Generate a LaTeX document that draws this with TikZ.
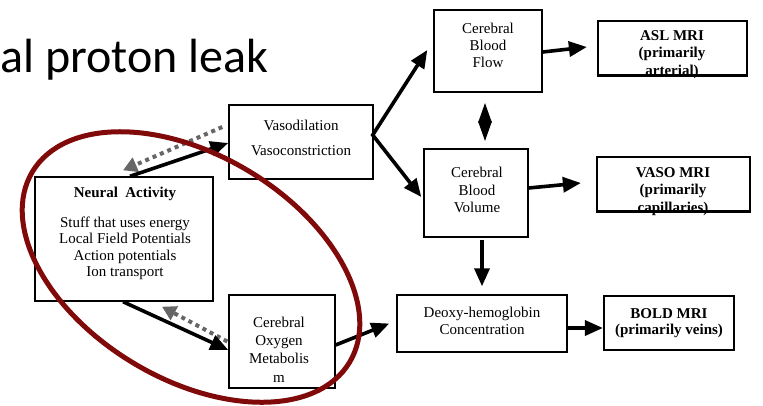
\documentclass[tikz,border=0pt]{standalone}
\usepackage{fontspec}
\setmainfont{Liberation Serif}
\newfontfamily\slidefont{Carlito}
\usetikzlibrary{arrows.meta}
\definecolor{ringred}{RGB}{128,10,10}

\begin{document}
\begin{tikzpicture}[x=1pt, y=-1pt, >={Triangle[length=18pt, width=15pt]},
	box/.style={draw, line width=1.4pt, inner sep=0pt},
	mribox/.style={box, line width=2.2pt},
	txt/.style={anchor=north, inner sep=0pt, align=center, font=\fontsize{15}{16.5}\selectfont},
	flow/.style={->, line width=3.6pt},
	leak/.style={->, line width=4pt, black!60, dash pattern=on 4pt off 4pt, >={Triangle[length=14pt, width=15pt]}}]
	\useasboundingbox (0,0) rectangle (763,405);

	\node[anchor=base west, inner sep=0pt, font=\slidefont\fontsize{48}{50}\selectfont] (title) at (0,72) {al proton leak};

	% boxes
	\node[box, minimum width=144pt, minimum height=74pt] (vaso) at (301,142) {};
	\node[box, minimum width=178pt, minimum height=124pt] (neural) at (124,239) {};
	\node[box, minimum width=106pt, minimum height=93pt] (cmro) at (282,341.5) {};
	\node[box, minimum width=108pt, minimum height=82pt] (cbf) at (488,51) {};
	\node[box, minimum width=104pt, minimum height=88pt] (cbv) at (476,193) {};
	\node[box, minimum width=170pt, minimum height=57pt] (deoxy) at (482,323.5) {};
	\node[mribox, minimum width=149pt, minimum height=54pt] (asl) at (672.5,48) {};
	\node[mribox, minimum width=153pt, minimum height=54pt] (vasomri) at (673.5,184) {};
	\node[mribox, minimum width=130pt, minimum height=54pt] (boldmri) at (669,323) {};

	% texts
	\node[txt] (vasotxt) at (301,120) {Vasodilation\\[8pt]Vasoconstriction};
	\node[txt] (neuraltxt) at (125,187) {\textbf{Neural\ \ Activity}\\[13pt]Stuff that uses energy\\Local Field Potentials\\Action potentials\\Ion transport};
	\node[txt] (cmrotxt) at (279,317) {Cerebral\\[1.5pt]Oxygen\\[1.5pt]Metabolis\\[2pt]m};
	\node[txt] (cbftxt) at (488,23) {Cerebral\\[0.5pt]Blood\\[0.5pt]Flow};
	\node[txt] (cbvtxt) at (477,167) {Cerebral\\[1pt]Blood\\[1pt]Volume};
	\node[txt] (deoxytxt) at (482,307) {Deoxy-hemoglobin\\Concentration};
	\node[txt, font=\fontsize{15}{17.5}\bfseries] (asltxt) at (672,30) {ASL MRI\\(primarily\\arterial)};
	\node[txt, font=\fontsize{15}{17.5}\bfseries] (vasomritxt) at (673,167) {VASO MRI\\(primarily\\capillaries)};
	\node[txt, font=\fontsize{15}{16}\bfseries] (boldtxt) at (669,308) {BOLD MRI\\(primarily veins)};
	% box edges drawn again over the texts that run out
	\draw[line width=2.2pt] (asl.south west) -- (asl.south east);
	\draw[line width=2.2pt] (vasomri.south west) -- (vasomri.south east);

	% loop round neural activity
	\draw[leak] ([xshift=-6pt, yshift=15pt]vaso.west) -- ([xshift=-1pt, yshift=6pt]neural.north);
	\draw[flow] ([xshift=6pt]neural.north) -- ([yshift=-1pt]vaso.west);
	\draw[leak] ([xshift=-1pt]cmro.west) -- ([xshift=38pt, yshift=-5pt]neural.south);
	\draw[flow] ([xshift=-1pt]neural.south) -- ([yshift=-8.5pt]cmro.west);

	% vascular side
	\coordinate (fork) at ([xshift=-1pt, yshift=7pt]vaso.east);
	\draw[<->, line width=3.6pt, line join=miter] ([xshift=-6pt, yshift=1pt]cbf.west) -- (fork) -- ([xshift=-2pt, yshift=-4pt]cbv.west);
	\draw[<->, line width=3pt, >={Triangle[length=20pt, width=13pt]}] ([xshift=-3pt, yshift=-10pt]cbf.south) -- ([xshift=9pt, yshift=7pt]cbv.north);
	\draw[flow] ([yshift=-1pt]cbf.east) -- ([xshift=-10pt, yshift=1pt]asl.west);
	\draw[flow] ([yshift=5pt]cbv.east) -- ([xshift=-15pt, yshift=1pt]vasomri.west);
	\draw[flow] (cbv.south -| deoxy.north) ++(0,2) -- ([yshift=8pt]deoxy.north);
	\draw[flow] ([yshift=-3.5pt]cmro.east) -- ([xshift=-7pt]deoxy.west);
	\draw[flow] ([yshift=-4.5pt]deoxy.east) -- ([yshift=-5pt]boldmri.west);

	\draw[ringred, line width=5pt, shift={(191,267)}, rotate=-31] (0,0) ellipse [x radius=185pt, y radius=112pt];
\end{tikzpicture}
\end{document}
